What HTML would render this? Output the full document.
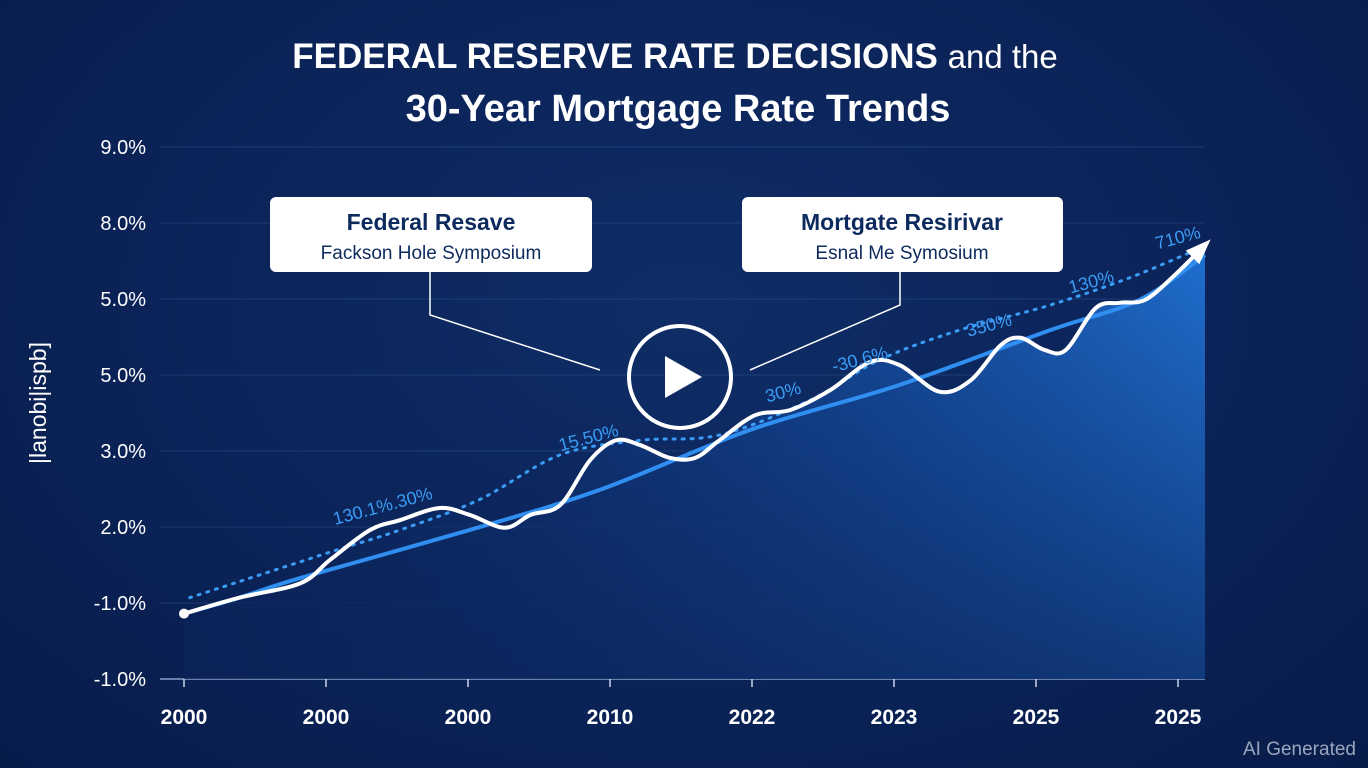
<!DOCTYPE html>
<html><head><meta charset="utf-8"><style>
html,body{margin:0;padding:0;}
body{width:1368px;height:768px;overflow:hidden;background:radial-gradient(ellipse at 50% 40%,#0f2d66 0%,#0b2358 55%,#081c4a 100%);font-family:"Liberation Sans",sans-serif;}
svg{position:absolute;left:0;top:0;}
</style></head><body>
<svg width="1368" height="768">
<defs>
<linearGradient id="area" x1="0" y1="0" x2="1" y2="0">
<stop offset="0" stop-color="#0c2760" stop-opacity="0.2"/><stop offset="0.5" stop-color="#134596" stop-opacity="0.7"/><stop offset="1" stop-color="#1f6fd0" stop-opacity="1"/></linearGradient>
<linearGradient id="areaV" x1="0" y1="0" x2="0" y2="1">
<stop offset="0" stop-color="#0b2358" stop-opacity="0"/><stop offset="1" stop-color="#0b2358" stop-opacity="0.7"/></linearGradient>
</defs>
<g id="grid"></g>
<g id="marks"></g>
<text x="675" y="68" text-anchor="middle" fill="#fff" font-size="35" font-weight="bold">FEDERAL RESERVE RATE DECISIONS <tspan font-weight="normal" font-size="33">and the</tspan></text>
<text x="678" y="121" text-anchor="middle" fill="#fff" font-size="38" font-weight="bold">30-Year Mortgage Rate Trends</text>
<text transform="translate(46,403) rotate(-90)" text-anchor="middle" fill="#fff" font-size="23">|lanobi|ispb]</text>
<g>
<rect x="270" y="197" width="322" height="75" rx="6" fill="#fff"/>
<text x="431" y="230" text-anchor="middle" fill="#0d2a5e" font-size="23" font-weight="bold">Federal Resave</text>
<text x="431" y="259" text-anchor="middle" fill="#0d2a5e" font-size="19">Fackson Hole Symposium</text>
<polyline points="430,272 430,315 600,370" fill="none" stroke="#fff" stroke-width="1.5"/>
</g>
<g>
<rect x="742" y="197" width="321" height="75" rx="6" fill="#fff"/>
<text x="902" y="230" text-anchor="middle" fill="#0d2a5e" font-size="23" font-weight="bold">Mortgate Resirivar</text>
<text x="902" y="259" text-anchor="middle" fill="#0d2a5e" font-size="19">Esnal Me Symosium</text>
<polyline points="900,272 900,305 750,370" fill="none" stroke="#fff" stroke-width="1.5"/>
</g>
<g>
<circle cx="680" cy="377" r="51" fill="none" stroke="#fff" stroke-width="4"/>
<polygon points="665,356 665,398 702,377" fill="#fff"/>
</g>
<g id="labels"></g>
<text x="1356" y="755" text-anchor="end" fill="#9aa6bd" font-size="19">AI Generated</text>
</svg>
<script>
const yTicks=["-1.0%","-1.0%","2.0%","3.0%","5.0%","5.0%","8.0%","9.0%"];
const xTicks=["2000","2000","2000","2010","2022","2023","2025","2025"];
const mortX=[0,0.39,0.82,1.03,1.31,1.52,1.80,2.01,2.26,2.44,2.65,2.86,3.04,3.21,3.42,3.60,3.77,4.02,4.27,4.55,4.83,5.04,5.32,5.54,5.75,5.89,6.06,6.21,6.42,6.59,6.77,6.98,7.19];
const mortY=[0.86,1.07,1.26,1.57,1.96,2.09,2.25,2.16,1.99,2.16,2.29,2.88,3.14,3.08,2.91,2.91,3.14,3.47,3.54,3.80,4.17,4.13,3.78,3.93,4.39,4.49,4.33,4.33,4.88,4.95,4.99,5.32,5.71];
const fedX=[0,0.39,0.82,2.01,2.93,3.99,5.04,6.10,6.73,7.19];
const fedY=[0.86,1.07,1.33,1.96,2.49,3.28,3.87,4.59,4.99,5.58];
const dotX=[0.04,1.03,1.52,2.08,2.65,3.21,3.77,4.41,4.90,5.46,6.10,6.66,7.12];
const dotY=[1.07,1.67,1.96,2.36,2.95,3.14,3.21,3.67,4.20,4.59,4.92,5.28,5.64];
const valLabels=["130.1%.30%","15.50%","30%","-30.6%","350%","130%","710%"];
const valLabelX=[1.41,2.86,4.23,4.77,5.68,6.40,7.01];
const valLabelY=[2.20,3.10,3.70,4.13,4.58,5.15,5.73];
const NS="http://www.w3.org/2000/svg";
const X=v=>184+v*142, Y=v=>679-v*76;
function el(t,a,p){const e=document.createElementNS(NS,t);for(const k in a)e.setAttribute(k,a[k]);p.appendChild(e);return e;}
function smooth(xs,ys){let p=xs.map((x,i)=>[X(x),Y(ys[i])]);let d="M"+p[0];for(let i=0;i<p.length-1;i++){const p0=p[i-1]||p[i],p1=p[i],p2=p[i+1],p3=p[i+2]||p2;const c1=[p1[0]+(p2[0]-p0[0])/6,p1[1]+(p2[1]-p0[1])/6],c2=[p2[0]-(p3[0]-p1[0])/6,p2[1]-(p3[1]-p1[1])/6];d+="C"+c1+" "+c2+" "+p2;}return d;}
const grid=document.getElementById('grid'),marks=document.getElementById('marks'),labels=document.getElementById('labels');
yTicks.forEach((t,i)=>{
const g=el('line',{x1:160,x2:1205,y1:Y(i),y2:Y(i),stroke:'#2a4a86','stroke-width':1,'stroke-opacity':0.6},grid);


const tx=el('text',{x:146,y:Y(i)+7,'text-anchor':'end',fill:'#fff','font-size':20},grid);tx.textContent=t;


});
const ax=el('line',{x1:160,x2:1205,y1:679,y2:679,stroke:'#8aa0c8','stroke-width':1.5},grid);


xTicks.forEach((t,i)=>{
el('line',{x1:X(i),x2:X(i),y1:679,y2:687,stroke:'#c8d4ea','stroke-width':1.5},grid);
const tx=el('text',{x:X(i),y:724,'text-anchor':'middle',fill:'#fff','font-size':21,'font-weight':'bold'},grid);tx.textContent=t;


});
const md=smooth(mortX,mortY);
const area=el('path',{d:md+"L"+X(mortX[mortX.length-1])+",679L"+X(mortX[0])+",679Z",fill:'url(#area)'},marks);


el('path',{d:md+"L"+X(mortX[mortX.length-1])+",679L"+X(mortX[0])+",679Z",fill:'url(#areaV)'},marks);
const fed=el('path',{d:smooth(fedX,fedY),fill:'none',stroke:'#2f8ef0','stroke-width':4},marks);


const dot=el('path',{d:smooth(dotX,dotY),fill:'none',stroke:'#3a9cf5','stroke-width':3,'stroke-dasharray':'2 7','stroke-linecap':'round'},marks);


const mort=el('path',{d:md,fill:'none',stroke:'#fff','stroke-width':4,'stroke-linecap':'round'},marks);


const st=el('circle',{cx:X(mortX[0]),cy:Y(mortY[0]),r:5,fill:'#fff'},marks);


const n=mortX.length,ex=X(mortX[n-1]),ey=Y(mortY[n-1]),px=X(mortX[n-2]),py=Y(mortY[n-2]);
const ang=Math.atan2(ey-py,ex-px),L=20;
const ar=el('polygon',{points:[ex+8*Math.cos(ang),ey+8*Math.sin(ang)]+" "+[ex-L*Math.cos(ang-0.5),ey-L*Math.sin(ang-0.5)]+" "+[ex-L*Math.cos(ang+0.5),ey-L*Math.sin(ang+0.5)],fill:'#fff'},marks);


valLabels.forEach((t,i)=>{
const x=X(valLabelX[i]),y=Y(valLabelY[i]);
const tx=el('text',{x:x,y:y,'text-anchor':'middle',fill:'#3a9cf5','font-size':18,transform:`rotate(-15 ${x} ${y})`},labels);tx.textContent=t;


});
</script>
</body></html>
